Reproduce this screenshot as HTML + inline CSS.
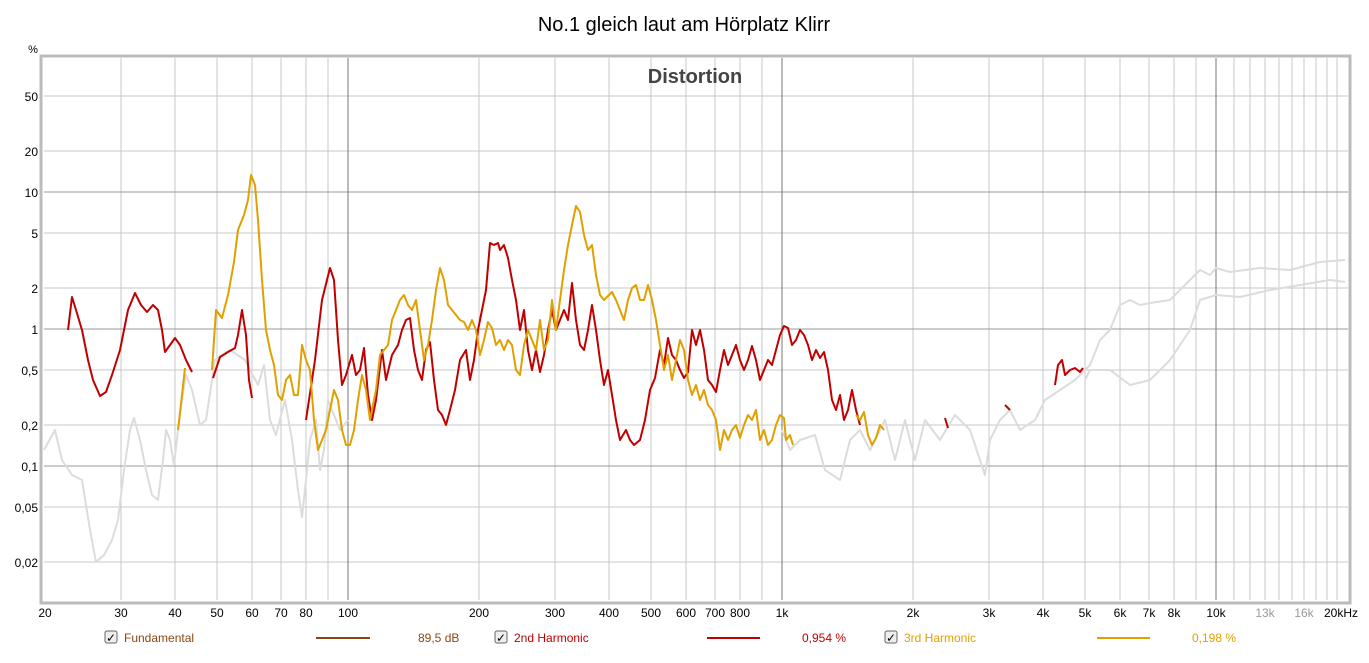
<!DOCTYPE html>
<html><head><meta charset="utf-8"><style>
body{margin:0;background:#fff;width:1369px;height:658px;overflow:hidden;font-family:"Liberation Sans",sans-serif}
</style></head><body>
<svg width="1369" height="658" xmlns="http://www.w3.org/2000/svg" font-family="Liberation Sans, sans-serif">
<rect width="1369" height="658" fill="#fff"/>
<text x="684" y="31" font-size="20" text-anchor="middle" fill="#000">No.1 gleich laut am Hörplatz Klirr</text>
<text x="33" y="53" font-size="11" text-anchor="middle" fill="#000">%</text>
<!-- frame shadow -->
<rect x="41" y="56" width="1309" height="547" fill="none" stroke="#bbb" stroke-width="3"/>
<rect x="44" y="58" width="1304" height="542" fill="#fff"/>
<g stroke="#c8c8c8" stroke-width="1">
<line x1="121" y1="58" x2="121" y2="600"/><line x1="175" y1="58" x2="175" y2="600"/><line x1="217" y1="58" x2="217" y2="600"/><line x1="252" y1="58" x2="252" y2="600"/><line x1="281" y1="58" x2="281" y2="600"/><line x1="306" y1="58" x2="306" y2="600"/><line x1="328" y1="58" x2="328" y2="600"/>
<line x1="479" y1="58" x2="479" y2="600"/><line x1="555" y1="58" x2="555" y2="600"/><line x1="609" y1="58" x2="609" y2="600"/><line x1="651" y1="58" x2="651" y2="600"/><line x1="686" y1="58" x2="686" y2="600"/><line x1="715" y1="58" x2="715" y2="600"/><line x1="740" y1="58" x2="740" y2="600"/><line x1="762" y1="58" x2="762" y2="600"/>
<line x1="913" y1="58" x2="913" y2="600"/><line x1="989" y1="58" x2="989" y2="600"/><line x1="1043" y1="58" x2="1043" y2="600"/><line x1="1085" y1="58" x2="1085" y2="600"/><line x1="1120" y1="58" x2="1120" y2="600"/><line x1="1149" y1="58" x2="1149" y2="600"/><line x1="1174" y1="58" x2="1174" y2="600"/><line x1="1196" y1="58" x2="1196" y2="600"/>
<line x1="1234" y1="58" x2="1234" y2="600"/><line x1="1250" y1="58" x2="1250" y2="600"/><line x1="1265" y1="58" x2="1265" y2="600"/><line x1="1279" y1="58" x2="1279" y2="600"/><line x1="1292" y1="58" x2="1292" y2="600"/><line x1="1304" y1="58" x2="1304" y2="600"/><line x1="1316" y1="58" x2="1316" y2="600"/><line x1="1327" y1="58" x2="1327" y2="600"/><line x1="1337" y1="58" x2="1337" y2="600"/>
<line x1="44" y1="96" x2="1348" y2="96"/><line x1="44" y1="151" x2="1348" y2="151"/><line x1="44" y1="233" x2="1348" y2="233"/><line x1="44" y1="288" x2="1348" y2="288"/><line x1="44" y1="370" x2="1348" y2="370"/><line x1="44" y1="425" x2="1348" y2="425"/><line x1="44" y1="507" x2="1348" y2="507"/><line x1="44" y1="562" x2="1348" y2="562"/>
</g>
<g stroke="#999" stroke-width="1">
<line x1="44" y1="192" x2="1348" y2="192"/><line x1="44" y1="329" x2="1348" y2="329"/><line x1="44" y1="466" x2="1348" y2="466"/>
<line x1="348" y1="58" x2="348" y2="600" stroke="#777"/><line x1="782" y1="58" x2="782" y2="600" stroke="#777"/><line x1="1216" y1="58" x2="1216" y2="600" stroke="#777"/>
</g>
<text x="695" y="83" font-size="20" font-weight="bold" text-anchor="middle" fill="#444">Distortion</text>
<g font-size="12" text-anchor="end" fill="#000">
<text x="38" y="101">50</text><text x="38" y="156">20</text><text x="38" y="197">10</text><text x="38" y="238">5</text><text x="38" y="293">2</text><text x="38" y="334">1</text><text x="38" y="375">0,5</text><text x="38" y="430">0,2</text><text x="38" y="471">0,1</text><text x="38" y="512">0,05</text><text x="38" y="567">0,02</text>
</g>
<g font-size="12" text-anchor="middle" fill="#000">
<text x="45" y="617">20</text><text x="121" y="617">30</text><text x="175" y="617">40</text><text x="217" y="617">50</text><text x="252" y="617">60</text><text x="281" y="617">70</text><text x="306" y="617">80</text><text x="348" y="617">100</text>
<text x="479" y="617">200</text><text x="555" y="617">300</text><text x="609" y="617">400</text><text x="651" y="617">500</text><text x="686" y="617">600</text><text x="715" y="617">700</text><text x="740" y="617">800</text><text x="782" y="617">1k</text>
<text x="913" y="617">2k</text><text x="989" y="617">3k</text><text x="1043" y="617">4k</text><text x="1085" y="617">5k</text><text x="1120" y="617">6k</text><text x="1149" y="617">7k</text><text x="1174" y="617">8k</text><text x="1216" y="617">10k</text>
<text x="1265" y="617" fill="#999">13k</text><text x="1304" y="617" fill="#999">16k</text><text x="1341" y="617">20kHz</text>
</g>
<g fill="none" stroke-width="2" stroke-linejoin="round">
<polyline stroke="#dcdcdc" points="44,450 55,430 62,460 72,475 82,480 90,530 96,562 104,555 112,540 118,520 124,470 130,430 134,418 140,440 146,470 152,495 158,500 163,460 166,430 170,440 174,465 178,430 182,400 186,375 192,390 200,425 206,420 215,360 230,350 245,360 258,385 264,365 270,420 276,435 285,400 292,440 298,490 302,517 306,480 310,440 316,420 320,470 324,450 328,400 340,430 348,420"/>
<polyline stroke="#dcdcdc" points="782,430 790,450 800,440 815,435 825,470 840,480 850,440 860,430 870,450 885,420 895,460 905,420 915,460 925,420 940,440 955,415 970,430 985,475 990,440 1000,420 1010,410 1020,430 1035,420 1045,400 1060,390 1075,380 1090,365 1100,340 1110,330 1120,305 1130,300 1140,305 1150,303 1170,300 1190,280 1200,270 1210,275 1216,268 1230,272 1260,268 1290,270 1320,262 1345,260"/>
<polyline stroke="#dcdcdc" points="1085,380 1090,370 1110,370 1130,385 1150,380 1170,360 1190,330 1200,300 1216,295 1240,297 1270,290 1300,285 1330,280 1345,282"/>
<polyline stroke="#c00000" points="68,330 72,297 76,310 82,330 88,360 93,380 100,396 106,392 112,375 120,350 128,310 135,293 141,305 147,312 153,305 158,310 162,330 165,352 170,345 175,338 180,345 186,360 192,372"/>
<polyline stroke="#c00000" points="213,378 220,357 228,352 235,348 238,335 242,310 246,335 249,380 252,398"/>
<polyline stroke="#c00000" points="306,420 315,360 322,300 330,268 334,280 338,340 342,385 346,375 352,355 356,375 360,370 364,348 368,395 372,420 376,400 382,350 386,380 392,355 398,345 402,330 406,320 410,318 414,350 418,370 422,380 426,350 430,342 434,380 438,410 442,415 446,425 450,410 455,390 460,360 466,350 470,380 474,360 478,330 482,310 486,290 490,243 494,245 498,243 500,250 504,245 508,258 512,280 516,300 520,330 524,310 528,350 532,370 536,350 540,372 544,355 548,330 552,310 556,330 560,320 564,310 568,320 572,283 576,320 580,345 584,350 588,330 592,305 596,330 600,360 604,385 608,370 612,395 616,420 620,440 626,430 630,440 634,445 640,440 645,420 650,390 655,378 660,350 664,365 668,338 672,355 676,360 680,370 684,378 688,372 692,330 696,345 700,330 704,350 708,380 712,385 716,392 720,370 724,350 728,365 732,355 736,345 740,360 744,370 748,360 752,346 756,360 760,380 764,370 768,360 772,365 776,350 780,335 784,326 788,328 792,345 796,340 800,330 804,335 808,345 812,360 816,350 820,358 824,352 828,370 832,400 836,410 840,395 844,420 848,410 852,390 856,410 860,425"/>
<polyline stroke="#c00000" points="945,418 948,428"/>
<polyline stroke="#c00000" points="1005,405 1010,410"/>
<polyline stroke="#c00000" points="1055,385 1058,365 1062,360 1065,375 1070,370 1075,368 1080,372 1083,368"/>
<polyline stroke="#e0a000" points="178,430 182,395 185,368"/>
<polyline stroke="#e0a000" points="212,370 216,310 222,318 228,295 234,262 238,230 244,215 248,200 251,175 255,185 258,220 262,280 266,330 270,350 274,365 278,395 282,400 286,380 290,375 294,395 298,395 302,345 306,360 310,370 314,420 318,450 322,440 326,430 330,410 334,390 338,400 342,430 346,445 350,445 354,430 358,400 362,375 366,390 370,420 376,390 380,355 384,350 388,345 392,320 396,310 400,300 404,295 408,305 412,310 416,300 420,330 424,360 428,345 432,320 436,290 440,268 444,280 448,305 452,310 456,315 460,320 464,322 468,330 472,320 476,330 480,355 484,340 488,322 492,328 496,345 500,340 504,350 508,340 512,345 516,370 520,375 524,345 528,330 532,340 536,350 540,320 544,350 548,340 552,300 556,330 560,300 564,270 568,245 572,225 576,206 580,212 584,235 588,250 592,245 596,275 600,295 604,300 608,296 612,292 616,300 620,310 624,320 628,300 632,288 636,285 640,300 644,300 648,285 652,300 656,320 660,345 664,370 668,355 672,380 676,360 680,340 684,350 688,380 692,395 696,385 700,400 704,390 708,405 712,410 716,420 720,450 724,430 728,440 732,430 736,425 740,438 744,425 748,415 752,420 756,410 760,440 764,430 768,445 772,440 776,425 780,415 784,418 786,440 790,435 793,445"/>
<polyline stroke="#e0a000" points="856,415 860,420 864,412 868,435 872,445 876,438 880,425 884,430"/>
</g>
<g font-size="12">
<rect x="105" y="631" width="12" height="12" rx="2" fill="#eee" stroke="#666"/><text x="106" y="642" font-size="12">✓</text>
<text x="124" y="642" fill="#8b4513">Fundamental</text>
<line x1="316" y1="638" x2="370" y2="638" stroke="#8b4513" stroke-width="2"/>
<text x="418" y="642" fill="#8b4513">89,5 dB</text>
<rect x="495" y="631" width="12" height="12" rx="2" fill="#eee" stroke="#666"/><text x="496" y="642">✓</text>
<text x="514" y="642" fill="#c00000">2nd Harmonic</text>
<line x1="707" y1="638" x2="760" y2="638" stroke="#c00000" stroke-width="2"/>
<text x="802" y="642" fill="#c00000">0,954 %</text>
<rect x="885" y="631" width="12" height="12" rx="2" fill="#eee" stroke="#666"/><text x="886" y="642">✓</text>
<text x="904" y="642" fill="#e0a000">3rd Harmonic</text>
<line x1="1097" y1="638" x2="1150" y2="638" stroke="#e0a000" stroke-width="2"/>
<text x="1192" y="642" fill="#e0a000">0,198 %</text>
</g>
</svg>
</body></html>
